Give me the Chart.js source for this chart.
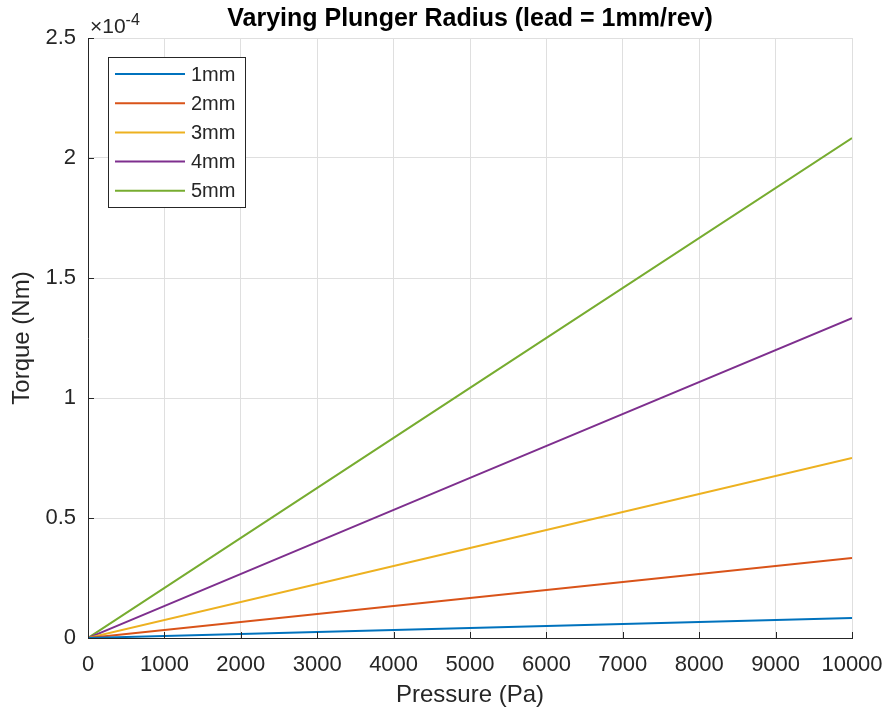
<!DOCTYPE html>
<html>
<head>
<meta charset="utf-8">
<script src="https://cdn.jsdelivr.net/npm/chart.js@4/dist/chart.umd.min.js"></script>
<style>
	body { margin: 0; background: #fff; }
</style>
</head>
<body>
<canvas id="myChart" width="887" height="710"></canvas>
<script>
	// values (torque in units of 1e-4 Nm)
	var pressure = [0, 5000, 10000];
	var radius1 = [0, 0.042, 0.083];
	var radius2 = [0, 0.167, 0.333];
	var radius3 = [0, 0.375, 0.750];
	var radius4 = [0, 0.667, 1.333];
	var radius5 = [0, 1.042, 2.083];
	var seriesNames = ['1mm', '2mm', '3mm', '4mm', '5mm'];
	var yTickLabels = ['0', '0.5', '1', '1.5', '2', '2.5'];
	var xTickLabels = ['0', '1000', '2000', '3000', '4000', '5000', '6000', '7000', '8000', '9000', '10000'];

	var colors = ['#0072BD', '#D95319', '#EDB120', '#7E2F8E', '#77AC30'];
	var textColor = '#262626';
	var fontName = "'Liberation Sans', Arial, sans-serif";

	function toPoints(ys) {
		var pts = [];
		for (var i = 0; i < ys.length; i++) {
			pts.push({ x: pressure[i], y: ys[i] });
		}
		return pts;
	}

	var allSeries = [radius1, radius2, radius3, radius4, radius5];
	var datasets = [];
	for (var i = 0; i < allSeries.length; i++) {
		datasets.push({
			label: seriesNames[i],
			data: toPoints(allSeries[i]),
			borderColor: colors[i],
			backgroundColor: colors[i],
			borderWidth: 2,
			pointRadius: 0,
			fill: false,
			tension: 0
		});
	}

	// title, exponent note, inward ticks and the boxed legend
	var matlabLook = {
		id: 'matlabLook',
		afterDraw: function(chart) {
			var ctx = chart.ctx;
			var area = chart.chartArea;
			var xs = chart.scales.x, ys = chart.scales.y;
			ctx.save();

			// tick marks inside the axes
			ctx.strokeStyle = textColor;
			ctx.lineWidth = 1;
			ctx.beginPath();
			xs.ticks.forEach(function(t) {
				var px = Math.round(xs.getPixelForValue(t.value)) + 0.5;
				ctx.moveTo(px, area.bottom);
				ctx.lineTo(px, area.bottom - 6);
			});
			ys.ticks.forEach(function(t) {
				var py = Math.round(ys.getPixelForValue(t.value)) + 0.5;
				ctx.moveTo(area.left, py);
				ctx.lineTo(area.left + 6, py);
			});
			ctx.stroke();

			// title
			ctx.fillStyle = '#000';
			ctx.font = 'bold 25px ' + fontName;
			ctx.textAlign = 'center';
			ctx.textBaseline = 'middle';
			ctx.fillText('Varying Plunger Radius (lead = 1mm/rev)', (area.left + area.right) / 2, 19);

			// x10^-4
			ctx.fillStyle = textColor;
			ctx.textAlign = 'left';
			ctx.textBaseline = 'alphabetic';
			ctx.font = '21px ' + fontName;
			ctx.fillText('\u00d710', 90, 33);
			var w = ctx.measureText('\u00d710').width;
			ctx.font = '16px ' + fontName;
			ctx.fillText('-4', 90 + w, 25);

			// legend
			var lx = 108, ly = 57, lw = 137, lh = 150;
			ctx.fillStyle = '#fff';
			ctx.fillRect(lx, ly, lw, lh);
			ctx.strokeStyle = textColor;
			ctx.lineWidth = 1;
			ctx.strokeRect(lx + 0.5, ly + 0.5, lw, lh);
			ctx.font = '20px ' + fontName;
			ctx.textBaseline = 'middle';
			chart.data.datasets.forEach(function(ds, k) {
				var cy = 74 + k * 29.2;
				ctx.strokeStyle = ds.borderColor;
				ctx.lineWidth = 2;
				ctx.beginPath();
				ctx.moveTo(115, cy);
				ctx.lineTo(185, cy);
				ctx.stroke();
				ctx.fillStyle = textColor;
				ctx.fillText(ds.label, 191, cy + 1);
			});
			ctx.restore();
		}
	};

	var ctx = document.getElementById('myChart');
	var config = {
		type: 'line',
		data: { datasets: datasets },
		options: {
			responsive: false,
			animation: false,
			layout: { padding: { top: 38, right: 35, left: 0, bottom: 0 } },
			plugins: {
				legend: { display: false },
				title: { display: false },
				tooltip: { enabled: false }
			},
			scales: {
				x: {
					type: 'linear',
					min: 0,
					max: 10000,
					afterFit: function(scale) {
						scale.height = 72;
						// let the layout padding decide the right edge
						scale.paddingLeft = 0;
						scale.paddingRight = 0;
					},
					ticks: {
						stepSize: 1000,
						color: textColor,
						padding: 14,
						maxRotation: 0,
						font: { family: fontName, size: 22 },
						callback: function(value, index) { return xTickLabels[index]; }
					},
					grid: { color: '#dfdfdf', drawTicks: false },
					border: { color: textColor, width: 1 },
					title: {
						display: true,
						text: 'Pressure (Pa)',
						color: textColor,
						font: { family: fontName, size: 24 },
						padding: { top: 0, bottom: 0 }
					}
				},
				y: {
					type: 'linear',
					min: 0,
					max: 2.5,
					afterFit: function(scale) { scale.width = 88; },
					ticks: {
						stepSize: 0.5,
						color: textColor,
						padding: 12,
						font: { family: fontName, size: 22 },
						callback: function(value, index) { return yTickLabels[index]; }
					},
					grid: { color: '#dfdfdf', drawTicks: false },
					border: { color: textColor, width: 1 },
					title: {
						display: true,
						text: 'Torque (Nm)',
						color: textColor,
						font: { family: fontName, size: 24 },
						padding: { top: 8, bottom: 0 }
					}
				}
			}
		},
		plugins: [matlabLook]
	};

	var myChart = new Chart(ctx, config);
</script>
</body>
</html>
